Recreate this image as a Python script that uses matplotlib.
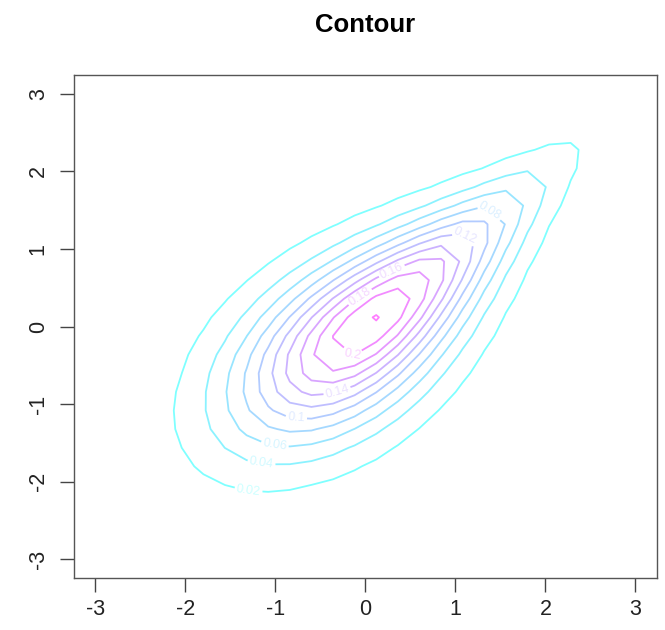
import numpy as np
import matplotlib
matplotlib.use("Agg")
import matplotlib.pyplot as plt
from math import erf

# Gumbel copula with N(0,1) margins, evaluated on a coarse grid like R's contour()
theta = 1.8
n_grid = 26
lim = (-3, 3)
levels = [0.02, 0.04, 0.06, 0.08, 0.1, 0.12, 0.14, 0.16, 0.18, 0.2, 0.22]
# where the labels sit in the reference
label_pos = {0.02: (-1.30, -2.12), 0.04: (-1.16, -1.79), 0.06: (-1.01, -1.55),
             0.08: (1.41, 1.53), 0.1: (-0.77, -1.21), 0.12: (1.08, 1.13),
             0.14: (-0.31, -0.85), 0.16: (0.30, 0.70), 0.18: (-0.10, 0.46),
             0.2: (-0.18, -0.44), 0.22: (0.34, 0.12)}
ticks = [-3, -2, -1, 0, 1, 2, 3]

pnorm = np.vectorize(lambda z: 0.5 * (1 + erf(z / np.sqrt(2))))


def dnorm(z):
    return np.exp(-z * z / 2) / np.sqrt(2 * np.pi)


def dgumbel_norm(a, b, t):
    u, v = pnorm(a), pnorm(b)
    x, y = -np.log(u), -np.log(v)
    A = (x ** t + y ** t) ** (1 / t)
    c = np.exp(-A) / (u * v) * (x * y) ** (t - 1) * A ** (1 - 2 * t) * (A + t - 1)
    return c * dnorm(a) * dnorm(b)


g = np.linspace(lim[0], lim[1], n_grid)
X, Y = np.meshgrid(g, g)
Z = dgumbel_norm(X, Y, theta)

plt.rcParams["font.family"] = ["Liberation Sans", "DejaVu Sans"]
fig = plt.figure(figsize=(6.65, 6.3), dpi=100)
ax = fig.add_axes([0.111, 0.0825, 0.877, 0.798])

cols = plt.cm.cool(np.linspace(0, 1, len(levels)))
for lv, col in zip(levels, cols):
    cs = ax.contour(X, Y, Z, levels=[lv], colors=[col], linewidths=1.3, alpha=0.5)
    if not cs.allsegs[0]:
        continue
    # labels only if the contour is long enough to carry one
    if len(cs.allsegs[0][0]) < 6:
        continue
    txt = ax.clabel(cs, manual=[label_pos[lv]], fontsize=9, inline=True,
                    inline_spacing=3, fmt=lambda v: "%g" % v)
    for t in txt:
        t.set_alpha(0.2)

ax.set_xlim(-3.24, 3.24)
ax.set_ylim(-3.24, 3.24)
ax.set_xticks(ticks)
ax.set_yticks(ticks)
ax.set_xticklabels([str(t) for t in ticks])
ax.set_yticklabels([str(t) for t in ticks], rotation=90, va="center")
ax.tick_params(axis="both", length=10, width=1, color="#444444", labelsize=15.5,
               labelcolor="#222222")
ax.tick_params(axis="x", pad=5)
ax.tick_params(axis="y", pad=8)
for s in ax.spines.values():
    s.set_color("#555555")
    s.set_linewidth(1)
ax.set_title("Contour", fontsize=18.5, fontweight="bold", pad=31)

fig.savefig("out.png")
